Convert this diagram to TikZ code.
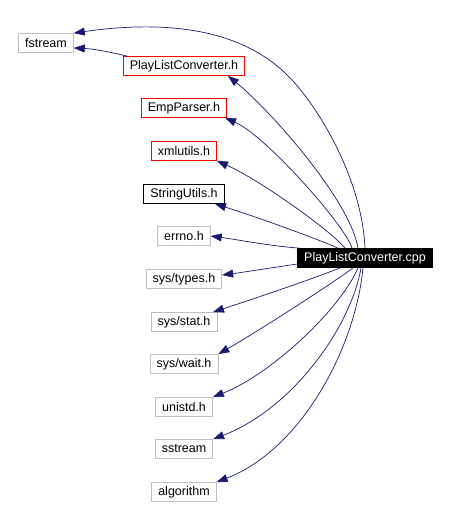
\documentclass[tikz,border=0pt]{standalone}
\usepackage{fontspec}
\setmainfont{Liberation Sans}
\usepackage{xcolor}
\usetikzlibrary{arrows.meta}
\definecolor{edgeblue}{RGB}{25,25,112}
\definecolor{sysgray}{RGB}{191,191,191}

\begin{document}
\begin{tikzpicture}[x=1pt, y=-1pt,
  every node/.style={draw, minimum height=19pt, inner xsep=6.5pt, inner ysep=0pt, line width=0.8pt, font=\fontsize{12.5}{14}\selectfont},
  sys/.style={draw=sysgray},
  proj/.style={draw=red},
  dep/.style={edgeblue, line width=0.7pt, -{Triangle[length=11pt,width=8pt]}}]
\useasboundingbox (0,0) rectangle (452,508);
\node[fill=black, text=white] (cpp) at (365,258) {PlayListConverter.cpp};
\node[sys] (fstream) at (46,43) {fstream};
\node[proj] (plch) at (184,66) {PlayListConverter.h};
\node[proj] (emp) at (184,108) {EmpParser.h};
\node[proj] (xml) at (184,151) {xmlutils.h};
\node (su) at (184,194) {StringUtils.h};
\node[sys] (errno) at (184,236) {errno.h};
\node[sys] (types) at (184,279) {sys/types.h};
\node[sys] (stat) at (184,322) {sys/stat.h};
\node[sys] (wait) at (184,364) {sys/wait.h};
\node[sys] (unistd) at (184,407) {unistd.h};
\node[sys] (sstream) at (184,449) {sstream};
\node[sys] (algo) at (184,492) {algorithm};
\draw[dep] (cpp.north) .. controls (362,180) and (320,110) .. (292,80) .. controls (260,45) and (200,15) .. (fstream.north east);
\draw[dep] ([xshift=-57pt]plch.north) .. controls (110,52) and (95,49) .. ([yshift=-5pt]fstream.east);
\draw[dep] ([xshift=-7pt]cpp.north) .. controls (350,200) and (270,110) .. ([xshift=44pt]plch.south);
\draw[dep] ([xshift=-13pt]cpp.north) .. controls (345,225) and (265,135) .. ([xshift=41pt]emp.south);
\draw[dep] ([xshift=-20pt]cpp.north) .. controls (330,230) and (260,180) .. (xml.south east);
\draw[dep] ([xshift=-27pt]cpp.north) .. controls (320,240) and (260,218) .. ([xshift=31pt]su.south);
\draw[dep] ([xshift=2pt]cpp.north west) .. controls (270,246) and (240,240) .. (errno.east);
\draw[dep] ([yshift=-6pt]cpp.west) .. controls (270,268) and (245,272) .. ([yshift=4pt]types.east);
\draw[dep] ([xshift=-25pt]cpp.south) .. controls (310,280) and (250,300) .. ([xshift=29pt]stat.north);
\draw[dep] ([xshift=-12pt]cpp.south) .. controls (330,285) and (260,330) .. (wait.north east);
\draw[dep] ([xshift=-7pt]cpp.south) .. controls (340,310) and (270,375) .. (unistd.north east);
\draw[dep] ([xshift=-4pt]cpp.south) .. controls (350,330) and (290,410) .. (sstream.north east);
\draw[dep] ([xshift=-2pt]cpp.south) .. controls (355,350) and (300,450) .. (algo.north east);
\end{tikzpicture}
\end{document}
